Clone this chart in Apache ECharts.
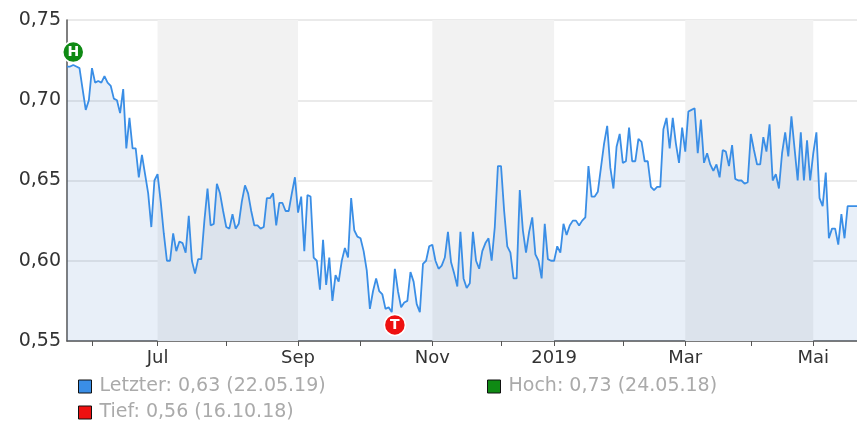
<!DOCTYPE html>
<html>
<head>
<meta charset="utf-8">
<script src="https://cdn.jsdelivr.net/npm/echarts@6/dist/echarts.min.js"></script>
<style>
  html, body { margin: 0; padding: 0; background: #fff; }
  #chart { width: 857px; height: 428px; }
</style>
</head>
<body>
<div id="chart"></div>
<script>
(function() {
  // trading days 22.05.18 - 22.05.19 (exchange holidays removed)
  var startDate = '2018-05-22';
  var endDate = '2019-05-22';
  var holidays = ['2018-12-24', '2018-12-25', '2018-12-26', '2018-12-31',
                  '2019-01-01', '2019-04-19', '2019-04-22', '2019-05-01'];
  var monthNames = ['Jan', 'Feb', 'Mar', 'Apr', 'Mai', 'Jun', 'Jul', 'Aug', 'Sep', 'Okt', 'Nov', 'Dez'];

  // closing prices, one per trading day
  var prices = [
    0.721, 0.721, 0.722, 0.721, 0.720, 0.707, 0.694, 0.700, 0.720, 0.711,
    0.712, 0.711, 0.715, 0.711, 0.709, 0.701, 0.700, 0.692, 0.707, 0.670,
    0.689, 0.670, 0.670, 0.652, 0.666, 0.654, 0.642, 0.621, 0.650, 0.654,
    0.637, 0.617, 0.600, 0.600, 0.617, 0.606, 0.612, 0.611, 0.605, 0.628,
    0.600, 0.592, 0.601, 0.601, 0.625, 0.645, 0.622, 0.623, 0.648, 0.642,
    0.631, 0.621, 0.620, 0.629, 0.620, 0.623, 0.637, 0.647, 0.642, 0.631,
    0.622, 0.622, 0.620, 0.621, 0.639, 0.639, 0.642, 0.622, 0.636, 0.636,
    0.631, 0.631, 0.642, 0.652, 0.630, 0.640, 0.606, 0.641, 0.640, 0.602,
    0.600, 0.582, 0.613, 0.585, 0.602, 0.575, 0.591, 0.587, 0.600, 0.608,
    0.602, 0.639, 0.619, 0.615, 0.614, 0.606, 0.594, 0.570, 0.581, 0.589,
    0.581, 0.579, 0.570, 0.571, 0.568, 0.595, 0.581, 0.571, 0.574, 0.575,
    0.593, 0.587, 0.573, 0.568, 0.598, 0.600, 0.609, 0.610, 0.600, 0.595,
    0.597, 0.602, 0.618, 0.599, 0.592, 0.584, 0.618, 0.589, 0.583, 0.586,
    0.618, 0.600, 0.595, 0.606, 0.611, 0.614, 0.600, 0.621, 0.659, 0.659,
    0.631, 0.609, 0.605, 0.589, 0.589, 0.644, 0.619, 0.605, 0.618, 0.627,
    0.604, 0.600, 0.589, 0.623, 0.601, 0.600, 0.600, 0.609, 0.605, 0.623,
    0.616, 0.622, 0.625, 0.625, 0.622, 0.625, 0.627, 0.659, 0.640, 0.640,
    0.643, 0.658, 0.673, 0.684, 0.658, 0.645, 0.671, 0.679, 0.661, 0.662,
    0.683, 0.662, 0.662, 0.676, 0.674, 0.662, 0.662, 0.646, 0.644, 0.646,
    0.646, 0.682, 0.689, 0.670, 0.689, 0.673, 0.661, 0.683, 0.668, 0.693,
    0.694, 0.695, 0.667, 0.688, 0.661, 0.667, 0.660, 0.656, 0.660, 0.652,
    0.669, 0.668, 0.659, 0.672, 0.651, 0.650, 0.650, 0.648, 0.649, 0.679,
    0.669, 0.660, 0.660, 0.677, 0.668, 0.685, 0.650, 0.654, 0.645, 0.667,
    0.680, 0.665, 0.690, 0.670, 0.650, 0.680, 0.650, 0.675, 0.650, 0.667,
    0.680, 0.639, 0.634, 0.655, 0.614, 0.620, 0.620, 0.610, 0.629, 0.614,
    0.634, 0.634, 0.634, 0.634
  ];

  var highPoint = ['2018-05-24', 0.73];
  var lowPoint = ['2018-10-16', 0.56];
  var shadedMonths = [['2018-07', '2018-09'], ['2018-11', '2019-01'], ['2019-03', '2019-05']];
  var yTicks = { min: 0.55, max: 0.75, step: 0.05 };

  var nameLast = 'Letzter: 0,63 (22.05.19)';
  var nameHigh = 'Hoch: 0,73 (24.05.18)';
  var nameLow = 'Tief: 0,56 (16.10.18)';

  function fmt(d) {
    var m = d.getUTCMonth() + 1, day = d.getUTCDate();
    return d.getUTCFullYear() + '-' + (m < 10 ? '0' : '') + m + '-' + (day < 10 ? '0' : '') + day;
  }

  var dates = [];
  var d = new Date(startDate + 'T00:00:00Z');
  var end = new Date(endDate + 'T00:00:00Z');
  while (d <= end) {
    var wd = d.getUTCDay();
    var s = fmt(d);
    if (wd !== 0 && wd !== 6 && holidays.indexOf(s) < 0) dates.push(s);
    d = new Date(d.getTime() + 86400000);
  }

  function isMonthStart(i) {
    return i > 0 && dates[i].slice(0, 7) !== dates[i - 1].slice(0, 7);
  }
  function firstDayOf(ym) {
    for (var i = 0; i < dates.length; i++) {
      if (dates[i].slice(0, 7) === ym) return dates[i];
    }
    return dates[dates.length - 1];
  }

  var bands = shadedMonths.map(function(b) {
    return [{ xAxis: firstDayOf(b[0]) }, { xAxis: firstDayOf(b[1]) }];
  });

  var font = 'DejaVu Sans, Verdana, sans-serif';
  var ink = '#333';
  var axisCol = '#555';
  var lineCol = '#3a8ee6';

  function legendAt(name, left, top) {
    return {
      data: [name],
      left: left, top: top,
      padding: 0,
      icon: 'rect',
      itemWidth: 13, itemHeight: 13,
      itemStyle: { borderColor: '#111', borderWidth: 1 },
      textStyle: { color: '#aaa', fontSize: 19, fontFamily: font, lineHeight: 21, padding: [0, 0, 0, 3] },
      selectedMode: false
    };
  }

  var chart = echarts.init(document.getElementById('chart'), null, { renderer: 'canvas' });
  chart.setOption({
    animation: false,
    grid: { left: 67, right: -4, top: 20, bottom: 87 },
    legend: [
      legendAt(nameLast, 78, 376),
      legendAt(nameLow, 78, 402),
      legendAt(nameHigh, 487, 376)
    ],
    xAxis: {
      type: 'category',
      data: dates,
      boundaryGap: false,
      axisLine: { lineStyle: { color: axisCol, width: 1.5 } },
      axisTick: {
        length: 5,
        lineStyle: { color: axisCol },
        interval: function(i) { return isMonthStart(i); }
      },
      axisLabel: {
        color: ink,
        fontSize: 18,
        fontFamily: font,
        margin: 8,
        interval: function(i) {
          if (!isMonthStart(i)) return false;
          var m = +dates[i].slice(5, 7);
          return m % 2 === 1;
        },
        formatter: function(v) {
          var m = +v.slice(5, 7);
          return m === 1 ? v.slice(0, 4) : monthNames[m - 1];
        }
      },
      splitLine: { show: false }
    },
    yAxis: {
      type: 'value',
      min: yTicks.min,
      max: yTicks.max,
      interval: yTicks.step,
      axisLine: { show: true, lineStyle: { color: axisCol, width: 1.5 } },
      axisTick: { show: false },
      axisLabel: {
        color: ink,
        fontSize: 19,
        fontFamily: font,
        margin: 6,
        formatter: function(v) { return v.toFixed(2).replace('.', ','); }
      },
      splitLine: { lineStyle: { color: '#e3e3e3', width: 1.5 } }
    },
    series: [
      {
        name: nameLast,
        type: 'line',
        data: prices,
        showSymbol: false,
        color: lineCol,
        lineStyle: { color: lineCol, width: 1.8 },
        areaStyle: { color: 'rgba(70,130,200,0.18)' },
        markArea: {
          silent: true,
          itemStyle: { color: '#f2f2f2' },
          data: bands
        }
      },
      {
        name: nameHigh,
        type: 'scatter',
        data: [highPoint],
        symbol: 'circle',
        symbolSize: 21,
        z: 5,
        itemStyle: { color: '#0f8a14', opacity: 1, borderColor: '#fff', borderWidth: 1.5 },
        label: { show: true, position: 'inside', formatter: 'H', color: '#fff', fontWeight: 'bold', fontSize: 14, fontFamily: font }
      },
      {
        name: nameLow,
        type: 'scatter',
        data: [lowPoint],
        symbol: 'circle',
        symbolSize: 21,
        z: 5,
        itemStyle: { color: '#ee1111', opacity: 1, borderColor: '#fff', borderWidth: 1.5 },
        label: { show: true, position: 'inside', formatter: 'T', color: '#fff', fontWeight: 'bold', fontSize: 14, fontFamily: font }
      }
    ]
  });
  window.addEventListener('resize', function() { chart.resize(); });
})();
</script>
</body>
</html>
